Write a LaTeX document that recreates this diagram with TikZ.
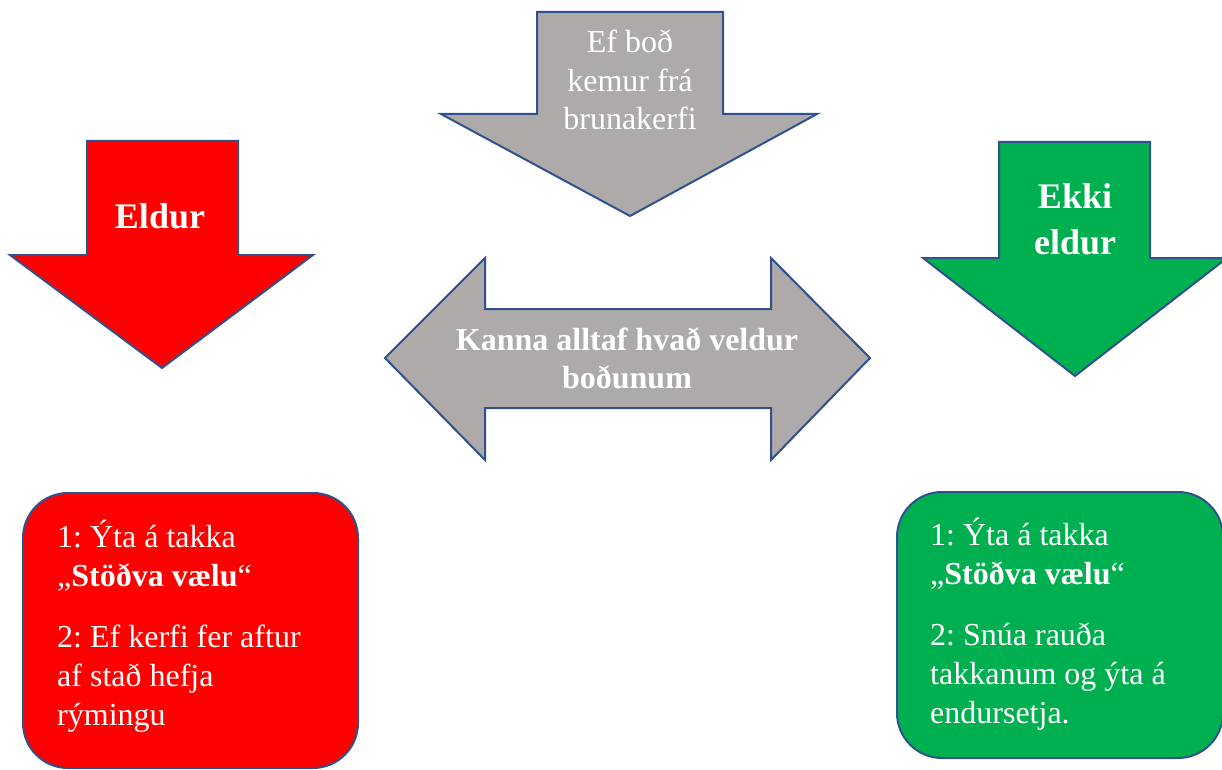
\documentclass[tikz,border=0pt]{standalone}
\usepackage{fontspec}
\setmainfont{Liberation Serif}
\usepackage{tikz}
\usetikzlibrary{positioning}
\definecolor{outline}{RGB}{47,82,143}
\definecolor{firered}{RGB}{255,0,0}
\definecolor{alarmgray}{RGB}{174,170,170}
\definecolor{okgreen}{RGB}{0,176,80}
\tikzstyle{blockarrow}=[draw=outline,line width=2pt,line join=miter]
\tikzstyle{stepsbox}=[draw=outline,line width=2pt,rounded corners=45pt]
\tikzstyle{whitetext}=[text=white,inner sep=0pt,anchor=base]
\newcommand{\txtlines}[2]{\begin{tabular}[t]{@{}#1@{}}#2\end{tabular}}
\frenchspacing

\begin{document}
\begin{tikzpicture}[x=1pt,y=-1pt]
\useasboundingbox (0,0) rectangle (1222,770);

% arrows
\draw[blockarrow,fill=alarmgray] (537,12) -- (723,12) -- (723,114) -- (817,114) -- (630,216) -- (441,114) -- (537,114) -- cycle;
\draw[blockarrow,fill=firered] (87,141) -- (238,141) -- (238,255) -- (313,255) -- (162,368) -- (10,255) -- (87,255) -- cycle;
\draw[blockarrow,fill=okgreen] (999,142) -- (1150,142) -- (1150,258) -- (1227,258) -- (1075,376) -- (923,258) -- (999,258) -- cycle;
\draw[blockarrow,fill=alarmgray] (385,358) -- (485,258) -- (485,309) -- (771,309) -- (771,258) -- (870,358) -- (771,460) -- (771,408) -- (485,408) -- (485,460) -- cycle;

% boxes
\draw[stepsbox,fill=firered] (23,493) rectangle (358,768);
\draw[stepsbox,fill=okgreen] (897,492) rectangle (1223,758);

\node[whitetext,font=\fontsize{32}{38.5}\selectfont] (ALARM) at (630,53) {\txtlines{c}{Ef boð\\ kemur frá\\ brunakerfi}};
\node[whitetext,font=\fontsize{32}{38}\selectfont\bfseries] (CHECK) at (627,350) {\txtlines{c}{Kanna alltaf hvað veldur\\ boðunum}};
\node[whitetext,font=\fontsize{36}{46}\selectfont\bfseries] (FIRE) at (160,228) {Eldur};
\node[whitetext,font=\fontsize{36}{46}\selectfont\bfseries] (NOFIRE) at (1075,208) {\txtlines{c}{Ekki\\ eldur}};

\node[whitetext,anchor=base west,font=\fontsize{32}{39}\selectfont] (FIRESTEPS) at (57,547)
 {\txtlines{l}{1: Ýta á takka\\ „\textbf{Stöðva vælu}“\\[22pt] 2: Ef kerfi fer aftur\\ af stað hefja\\ rýmingu}};
\node[whitetext,anchor=base west,font=\fontsize{32}{39}\selectfont] (OKSTEPS) at (930,545)
 {\txtlines{l}{1: Ýta á takka\\ „\textbf{Stöðva vælu}“\\[22pt] 2: Snúa rauða\\ takkanum og ýta á\\ endursetja.}};

\end{tikzpicture}
\end{document}
